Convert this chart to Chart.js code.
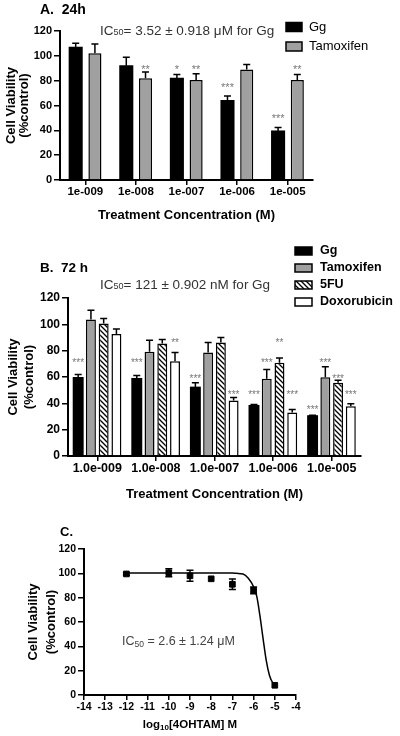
<!DOCTYPE html>
<html>
<head>
<meta charset="utf-8">
<script src="https://cdn.jsdelivr.net/npm/chart.js@4.4.1/dist/chart.umd.min.js"></script>
<style>
  body { margin: 0; background: #fff; }
  #wrap { position: relative; width: 400px; height: 736px; }
  canvas { position: absolute; left: 0; }
</style>
</head>
<body>
<div id="wrap">
  <canvas id="chartA" width="400" height="230" style="top:0"></canvas>
  <canvas id="chartB" width="400" height="280" style="top:230px"></canvas>
  <canvas id="chartC" width="400" height="226" style="top:510px"></canvas>
</div>
<script>
// panel A - 24h
const concA = ['1e-009', '1e-008', '1e-007', '1e-006', '1e-005'];
const gg24 = [107, 92, 82, 64, 39.5];
const gg24Err = [3.2, 6.8, 3, 3.6, 2.7];
const tam24 = [102, 82, 80.5, 89, 80.5];
const tam24Err = [7.5, 5, 5, 4, 4.5];
const gg24Stars = ['', '', '*', '***', '***'];
const gg24StarAt = [0, 0, 90, 76, 51];
const tam24Stars = ['', '**', '**', '', '**'];
const tam24StarAt = [0, 90, 90, 0, 90];

// panel B - 72 h
const concB = ['1.0e-009', '1.0e-008', '1.0e-007', '1.0e-006', '1.0e-005'];
const gg72 = [59.6, 58.9, 52.3, 38.4, 30.6];
const gg72Err = [2.3, 2.3, 3.3, 0.8, 0.4];
const tam72 = [103.6, 79.1, 78.6, 58.6, 59.9];
const tam72Err = [7.1, 8.9, 7.6, 7.1, 7.8];
const fu72 = [100.6, 85.4, 86.2, 70.8, 55.6];
const fu72Err = [3.8, 3, 3.8, 3.7, 2];
const dox72 = [92.7, 72, 42.2, 33.1, 37.7];
const dox72Err = [3.8, 6.6, 2.3, 2.3, 2];
const gg72Stars = ['***', '***', '***', '***', '***'];
const gg72StarAt = [72, 72, 60, 47.5, 36];
const tam72Stars = ['', '', '', '***', '***'];
const tam72StarAt = [0, 0, 0, 72, 72];
const fu72Stars = ['', '', '', '**', '***'];
const fu72StarAt = [0, 0, 0, 87.4, 60];
const dox72Stars = ['', '**', '***', '***', '***'];
const dox72StarAt = [0, 87.4, 47.5, 47.5, 47.5];

// panel C - 4OHTAM dose response
const logConc = [-12, -10, -9, -8, -7, -6, -5];
const viabC = [99.5, 100.5, 98, 95.5, 91, 86, 8];
const viabCErr = [1, 3.3, 4.5, 0, 4.3, 2.7, 0];
const curveX = [-12, -9, -7, -6.8, -6.5, -6.25, -6, -5.85, -5.7, -5.55, -5.4, -5.25, -5.1, -5];
const curveY = [100.3, 100.3, 100.2, 100, 99.5, 96, 89, 81, 65, 46, 28, 16, 10, 8];

const FONT = 'Arial, "Liberation Sans", sans-serif';
Chart.defaults.font.family = FONT;
Chart.defaults.color = '#000';

function hatchPattern(ctxTarget) {
    const c = document.createElement('canvas');
    c.width = 5; c.height = 5;
    const g = c.getContext('2d');
    g.fillStyle = '#fff';
    g.fillRect(0, 0, 5, 5);
    g.strokeStyle = '#000';
    g.lineWidth = 1.3;
    g.beginPath();
    g.moveTo(0, 0); g.lineTo(5, 5);
    g.moveTo(-1, 4); g.lineTo(1, 6);
    g.moveTo(4, -1); g.lineTo(6, 1);
    g.stroke();
    return ctxTarget.createPattern(c, 'repeat');
}

// error bars + significance stars
const errorBars = {
    id: 'errorBars',
    afterDatasetsDraw(chart) {
        const ctx = chart.ctx;
        const ys = chart.scales.y;
        chart.data.datasets.forEach((ds, i) => {
            const meta = chart.getDatasetMeta(i);
            ctx.save();
            ctx.strokeStyle = '#000';
            ctx.lineWidth = 1.5;
            meta.data.forEach((el, j) => {
                const raw = ds.data[j];
                const v = typeof raw === 'object' ? raw.y : raw;
                const e = ds.err ? ds.err[j] : 0;
                if (e) {
                    const top = ys.getPixelForValue(v + e);
                    const bot = ds.errBoth ? ys.getPixelForValue(v - e) : el.y;
                    const cap = ds.capW || 3.5;
                    ctx.beginPath();
                    ctx.moveTo(el.x, bot); ctx.lineTo(el.x, top);
                    ctx.moveTo(el.x - cap, top); ctx.lineTo(el.x + cap, top);
                    if (ds.errBoth) { ctx.moveTo(el.x - cap, bot); ctx.lineTo(el.x + cap, bot); }
                    ctx.stroke();
                }
                if (ds.stars && ds.stars[j]) {
                    ctx.fillStyle = '#777';
                    ctx.font = ds.starFont || '10px ' + FONT;
                    ctx.textAlign = 'center';
                    ctx.textBaseline = 'middle';
                    ctx.fillText(ds.stars[j], el.x, ys.getPixelForValue(ds.starAt[j]) + 2);
                }
            });
            ctx.restore();
        });
    }
};

// boxed legend drawn at a fixed spot
const boxLegend = {
    id: 'boxLegend',
    afterDraw(chart, args, o) {
        if (!o.x) return;
        const ctx = chart.ctx;
        ctx.save();
        ctx.font = o.font;
        ctx.textBaseline = 'middle';
        ctx.textAlign = 'left';
        chart.data.datasets.forEach((ds, i) => {
            const cy = o.y + i * o.gap;
            ctx.fillStyle = ds.backgroundColor;
            ctx.fillRect(o.x, cy - o.h / 2, o.w, o.h);
            ctx.strokeStyle = '#000';
            ctx.lineWidth = 1.5;
            ctx.strokeRect(o.x, cy - o.h / 2, o.w, o.h);
            ctx.fillStyle = '#000';
            ctx.fillText(ds.label, o.textX, cy);
        });
        ctx.restore();
    }
};

// free text with subscripts
const panelText = {
    id: 'panelText',
    afterDraw(chart, args, o) {
        if (!o.items) return;
        const ctx = chart.ctx;
        ctx.save();
        ctx.textBaseline = 'middle';
        ctx.textAlign = 'left';
        o.items.forEach(it => {
            const parts = it.parts;
            let w = 0;
            parts.forEach(p => {
                ctx.font = typeof p === 'object' ? it.subFont : it.font;
                w += ctx.measureText(typeof p === 'object' ? p.sub : p).width;
            });
            let x = it.align === 'center' ? it.x - w / 2 : it.x;
            ctx.fillStyle = it.color || '#000';
            parts.forEach(p => {
                const sub = typeof p === 'object';
                const t = sub ? p.sub : p;
                ctx.font = sub ? it.subFont : it.font;
                ctx.fillText(t, x, it.y + (sub ? (it.subDy || 3) : 0));
                x += ctx.measureText(t).width;
            });
        });
        ctx.restore();
    }
};

function yAxis(width, tickSize, titleFont, titlePad) {
    return {
        min: 0, max: 120,
        ticks: { stepSize: 20, font: { size: tickSize, weight: 'bold' }, padding: 2, color: '#000' },
        grid: { drawOnChartArea: false, color: '#000', tickLength: 6, lineWidth: 1.5 },
        border: { color: '#000', width: 2 },
        title: {
            display: true, text: ['Cell Viability', '(%control)'], color: '#000',
            font: titleFont, padding: { top: titlePad, bottom: 0 }
        },
        afterFit(s) { s.width = width; }
    };
}

function catAxis(height, tickSize, titlePadBottom) {
    return {
        offset: true,
        ticks: { font: { size: tickSize, weight: 'bold' }, padding: 0, color: '#000', maxRotation: 0, autoSkip: false },
        grid: { drawOnChartArea: false, offset: false, color: '#000', tickLength: 5, lineWidth: 1.5 },
        border: { color: '#000', width: 2 },
        title: {
            display: true, text: 'Treatment Concentration (M)', color: '#000',
            font: { size: 13, weight: 'bold', lineHeight: 1.2 }, padding: { top: 0, bottom: titlePadBottom }
        },
        afterFit(s) { s.height = height; }
    };
}

const barBase = { borderColor: '#000', borderWidth: 1.5, inflateAmount: 0 };
// solid black bars need no outline (avoids a light seam inside)
const blackBar = { borderColor: '#000', borderWidth: 0, inflateAmount: 0.5 };

// ---- A ----
new Chart(document.getElementById('chartA'), {
    type: 'bar',
    data: {
        labels: concA,
        datasets: [
            Object.assign({ label: 'Gg', data: gg24, err: gg24Err, stars: gg24Stars, starAt: gg24StarAt,
                backgroundColor: '#000', starFont: '11px ' + FONT }, blackBar),
            Object.assign({ label: 'Tamoxifen', data: tam24, err: tam24Err, stars: tam24Stars, starAt: tam24StarAt,
                backgroundColor: '#a0a0a0', starFont: '11px ' + FONT }, barBase)
        ]
    },
    options: {
        responsive: false, animation: false, devicePixelRatio: 1,
        categoryPercentage: 0.76, barPercentage: 0.68,
        layout: { padding: { left: 0, right: 87, top: 31, bottom: 5 } },
        plugins: {
            legend: { display: false }, tooltip: { enabled: false },
            boxLegend: { x: 286, y: 27, gap: 19.5, w: 16, h: 9, textX: 309, font: '13px ' + FONT },
            panelText: { items: [
                { x: 40, y: 10, font: 'bold 14px ' + FONT, parts: ['A.  24h'] },
                { x: 100, y: 31, font: '13.5px ' + FONT, subFont: '9px ' + FONT, subDy: 2, color: '#333',
                  parts: ['IC', { sub: '50' }, '= 3.52 \u00b1 0.918 \u03bcM for Gg'] }
            ] }
        },
        scales: {
            x: catAxis(45, 11.5, 2),
            y: yAxis(60, 11, { size: 13, weight: 'bold', lineHeight: 1.0 }, 5)
        }
    },
    plugins: [errorBars, boxLegend, panelText]
});

// ---- B ----
const ctxB = document.getElementById('chartB').getContext('2d');
const hatch = hatchPattern(ctxB);
new Chart(ctxB, {
    type: 'bar',
    data: {
        labels: concB,
        datasets: [
            Object.assign({ label: 'Gg', data: gg72, err: gg72Err, stars: gg72Stars, starAt: gg72StarAt, backgroundColor: '#000' }, blackBar),
            Object.assign({ label: 'Tamoxifen', data: tam72, err: tam72Err, stars: tam72Stars, starAt: tam72StarAt, backgroundColor: '#a0a0a0' }, barBase),
            Object.assign({ label: '5FU', data: fu72, err: fu72Err, stars: fu72Stars, starAt: fu72StarAt, backgroundColor: hatch }, barBase),
            Object.assign({ label: 'Doxorubicin', data: dox72, err: dox72Err, stars: dox72Stars, starAt: dox72StarAt, backgroundColor: '#fff' }, barBase)
        ]
    },
    options: {
        responsive: false, animation: false, devicePixelRatio: 1,
        categoryPercentage: 0.87, barPercentage: 0.78,
        layout: { padding: { left: 0, right: 39, top: 68, bottom: 6 } },
        plugins: {
            legend: { display: false }, tooltip: { enabled: false },
            boxLegend: { x: 295, y: 21, gap: 17, w: 17, h: 8, textX: 320, font: 'bold 12.5px ' + FONT },
            panelText: { items: [
                { x: 40, y: 38, font: 'bold 13.5px ' + FONT, parts: ['B.  72 h'] },
                { x: 100, y: 55, font: '13.5px ' + FONT, subFont: '9px ' + FONT, subDy: 2, color: '#333',
                  parts: ['IC', { sub: '50' }, '= 121 \u00b1 0.902 nM for Gg'] }
            ] }
        },
        scales: {
            x: catAxis(48, 12.5, 2.2),
            y: yAxis(68, 12, { size: 13, weight: 'bold', lineHeight: 1.2 }, 6)
        }
    },
    plugins: [errorBars, boxLegend, panelText]
});

// ---- C ----
new Chart(document.getElementById('chartC'), {
    type: 'scatter',
    data: {
        datasets: [
            {
                label: 'fit', data: curveX.map((x, i) => ({ x: x, y: curveY[i] })),
                showLine: true, borderColor: '#000', borderWidth: 1.5, pointRadius: 0,
                cubicInterpolationMode: 'monotone'
            },
            {
                label: '4OHTAM', data: logConc.map((x, i) => ({ x: x, y: viabC[i] })),
                err: viabCErr, errBoth: true, capW: 3.5,
                pointStyle: 'rect', pointRadius: 4, backgroundColor: '#000', borderColor: '#000', borderWidth: 1
            }
        ]
    },
    options: {
        responsive: false, animation: false, devicePixelRatio: 1,
        layout: { padding: { left: 0, right: 104, top: 39, bottom: 11 } },
        plugins: {
            legend: { display: false }, tooltip: { enabled: false },
            panelText: { items: [
                { x: 60, y: 22, font: 'bold 13px ' + FONT, parts: ['C.'] },
                { x: 122, y: 132, font: '12.5px ' + FONT, subFont: '8.5px ' + FONT, subDy: 3, color: '#444',
                  parts: ['IC', { sub: '50' }, ' = 2.6 \u00b1 1.24 \u03bcM'] },
                { x: 190, y: 215, align: 'center', font: 'bold 11.5px ' + FONT, subFont: 'bold 8px ' + FONT, subDy: 3,
                  parts: ['log', { sub: '10' }, '[4OHTAM] M'] }
            ] }
        },
        scales: {
            x: {
                type: 'linear', min: -14, max: -4,
                ticks: { stepSize: 1, font: { size: 10.5, weight: 'bold' }, padding: 1, color: '#000' },
                grid: { drawOnChartArea: false, color: '#000', tickLength: 5, lineWidth: 1.5 },
                border: { color: '#000', width: 2 },
                afterFit(s) { s.height = 30; }
            },
            y: yAxis(84, 10.5, { size: 13, weight: 'bold', lineHeight: 1.35 }, 25)
        }
    },
    plugins: [errorBars, panelText]
});
</script>
</body>
</html>
